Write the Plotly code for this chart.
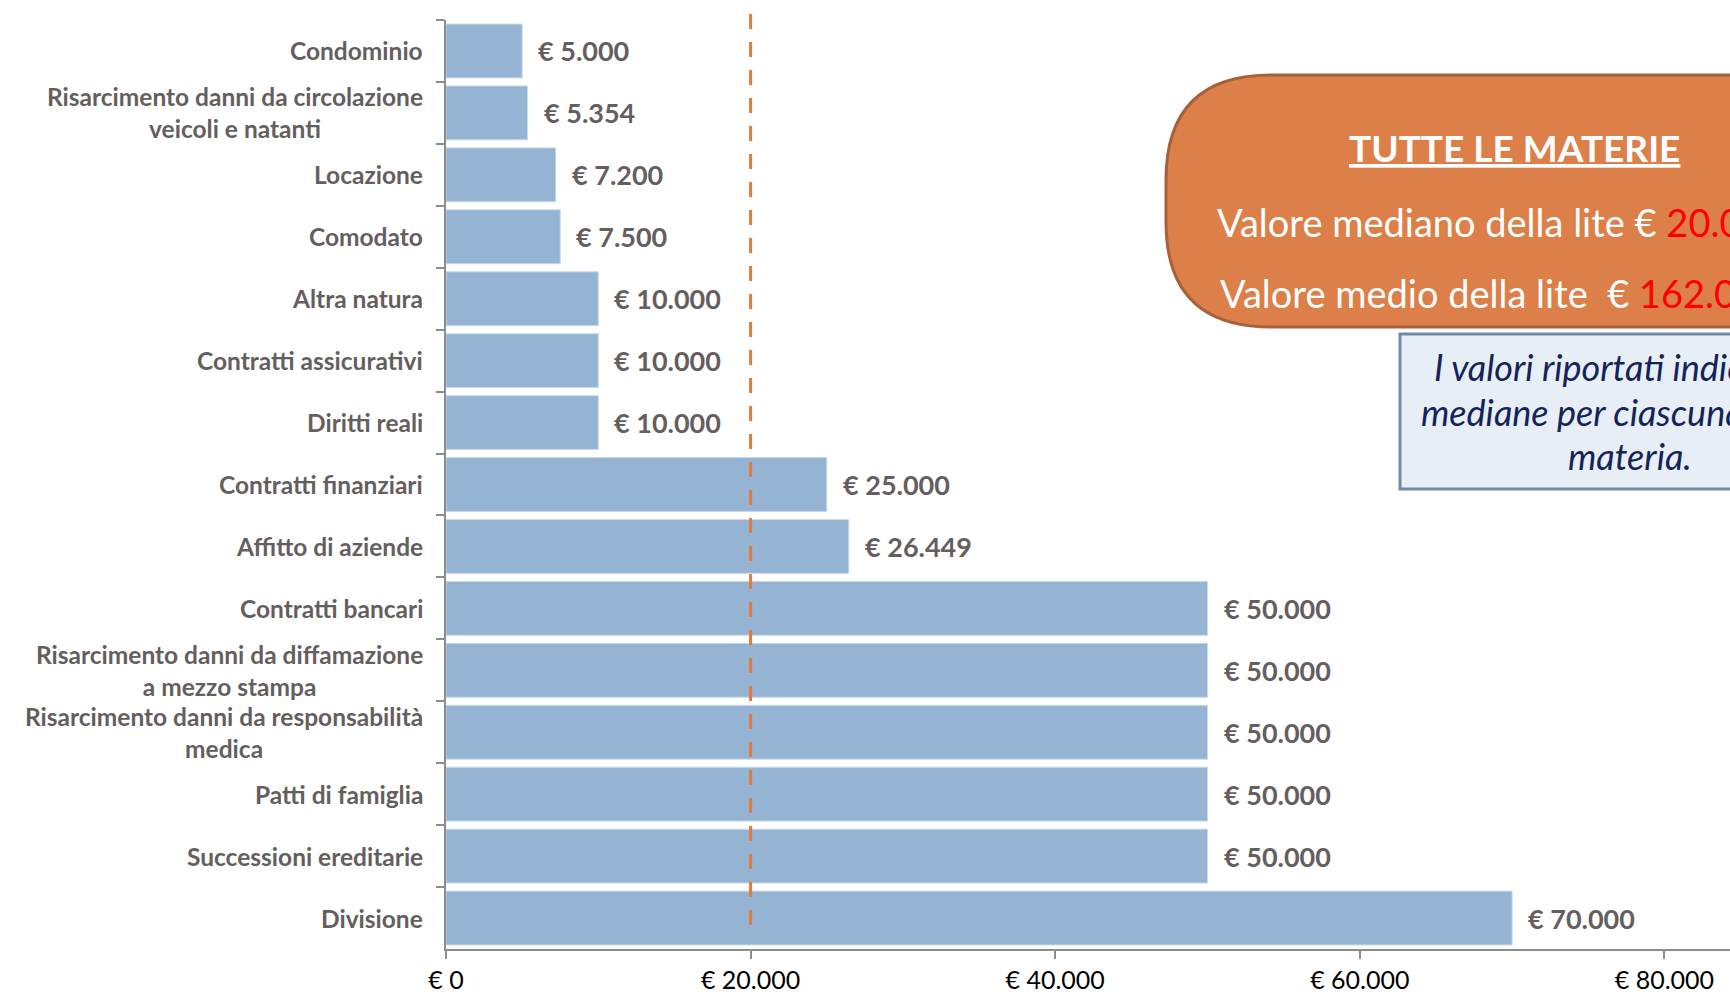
import plotly.graph_objects as go

categories = [
    "Condominio",
    "Risarcimento danni da circolazione<br>veicoli e natanti",
    "Locazione",
    "Comodato",
    "Altra natura",
    "Contratti assicurativi",
    "Diritti reali",
    "Contratti finanziari",
    "Affitto di aziende",
    "Contratti bancari",
    "Risarcimento danni da diffamazione<br>a mezzo stampa",
    "Risarcimento danni da responsabilità<br>medica",
    "Patti di famiglia",
    "Successioni ereditarie",
    "Divisione",
]
values = [5000, 5354, 7200, 7500, 10000, 10000, 10000, 25000, 26449,
          50000, 50000, 50000, 50000, 50000, 70000]
value_labels = ["€ 5.000", "€ 5.354", "€ 7.200", "€ 7.500", "€ 10.000", "€ 10.000",
                "€ 10.000", "€ 25.000", "€ 26.449", "€ 50.000", "€ 50.000", "€ 50.000",
                "€ 50.000", "€ 50.000", "€ 70.000"]
x_tickvals = [0, 20000, 40000, 60000, 80000]
x_ticktext = ["€ 0", "€ 20.000", "€ 40.000", "€ 60.000", "€ 80.000"]
median_value = 20000

W, H = 1730, 994
L, R, T, B = 446, 0, 20, 45
PW = W - L - R
PH = H - T - B
XMAX = 20000 * PW / 304.6

def px(x):
    return (x - L) / PW

def py(y):
    return (H - B - y) / PH

FONT = "Lato"
TXT = "#655e5e"

fig = go.Figure()
fig.add_trace(go.Bar(
    x=values, y=categories, orientation="h",
    marker=dict(color="#95b4d3", line=dict(color="#c9d9ea", width=1)),
    hoverinfo="skip",
))

annotations = []
for c in categories:
    annotations.append(dict(
        x=0, xref="paper", y=c, yref="y", xanchor="right", yanchor="middle",
        xshift=-21, text="<b>" + c + "</b>", showarrow=False, align="center",
        font=dict(family=FONT, size=24.5, color=TXT),
    ))
for v, c, t in zip(values, categories, value_labels):
    annotations.append(dict(
        x=v, xref="x", y=c, yref="y", xanchor="left", yanchor="middle",
        xshift=14, text="<b>" + t + "</b>", showarrow=False,
        font=dict(family=FONT, size=27, color=TXT),
    ))

# orange rounded box
x0, x1 = px(1166), px(1900)
y0, y1 = py(327), py(75)
rx = 105 / PW
ry = 105 / PH
path = (f"M {x0},{y1 - ry} Q {x0},{y1} {x0 + rx},{y1} L {x1},{y1} L {x1},{y0} "
        f"L {x0 + rx},{y0} Q {x0},{y0} {x0},{y0 + ry} Z")
shapes = [
    dict(type="path", xref="paper", yref="paper", path=path,
         fillcolor="#dc7f48", line=dict(color="#a8603a", width=3), layer="above"),
    dict(type="rect", xref="paper", yref="paper", x0=px(1400), x1=px(1900),
         y0=py(489), y1=py(334), fillcolor="#e8eef6",
         line=dict(color="#7089a6", width=3), layer="above"),
    dict(type="line", xref="x", yref="paper", x0=median_value, x1=median_value,
         y0=py(925), y1=py(11), line=dict(color="#e07b3c", width=3, dash="15px,13px"),
         layer="above"),
]

annotations += [
    dict(x=px(1514), y=py(147), xref="paper", yref="paper", xanchor="center", yanchor="middle",
         text="<b><u>TUTTE LE MATERIE</u></b>", showarrow=False,
         font=dict(family=FONT, size=37, color="white")),
    dict(x=px(1215), y=py(222), xref="paper", yref="paper", xanchor="left", yanchor="middle",
         text="Valore mediano della lite € <span style='color:#ff0000'>20.000</span>",
         showarrow=False, font=dict(family=FONT, size=38, color="white")),
    dict(x=px(1218), y=py(293), xref="paper", yref="paper", xanchor="left", yanchor="middle",
         text="Valore medio della lite \u00a0€ <span style='color:#ff0000'>162.000</span>",
         showarrow=False, font=dict(family=FONT, size=38, color="white")),
    dict(x=px(1432), y=py(367), xref="paper", yref="paper", xanchor="left", yanchor="middle",
         text="<i>I valori riportati indicano le</i>", showarrow=False,
         font=dict(family=FONT, size=36, color="#14245a")),
    dict(x=px(1419), y=py(412), xref="paper", yref="paper", xanchor="left", yanchor="middle",
         text="<i>mediane per ciascuna singola</i>", showarrow=False,
         font=dict(family=FONT, size=36, color="#14245a")),
    dict(x=px(1630), y=py(456), xref="paper", yref="paper", xanchor="center", yanchor="middle",
         text="<i>materia.</i>", showarrow=False,
         font=dict(family=FONT, size=36, color="#14245a")),
]

fig.update_layout(
    width=W, height=H, margin=dict(l=L, r=R, t=T, b=B, autoexpand=False),
    paper_bgcolor="white", plot_bgcolor="white",
    bargap=0.13, showlegend=False,
    shapes=shapes, annotations=annotations,
    xaxis=dict(range=[0, XMAX], tickvals=x_tickvals, ticktext=x_ticktext,
               showgrid=False, zeroline=False, showline=True, linecolor="#8c8c8c",
               linewidth=2, ticks="outside", ticklen=8, tickcolor="#8c8c8c", tickwidth=1.5,
               ticklabelstandoff=0,
               tickfont=dict(family=FONT, size=25, color="black")),
    yaxis=dict(categoryorder="array", categoryarray=categories, autorange="reversed",
               showgrid=False, zeroline=False, showline=True, linecolor="#8c8c8c",
               linewidth=2, ticks="outside", ticklen=8, tickcolor="#8c8c8c", tickwidth=1.5,
               tickson="boundaries", showticklabels=False),
)

fig.write_html("out.html", config={"displayModeBar": False},
               post_script="document.body.style.margin='0px';document.body.style.overflow='hidden';")
